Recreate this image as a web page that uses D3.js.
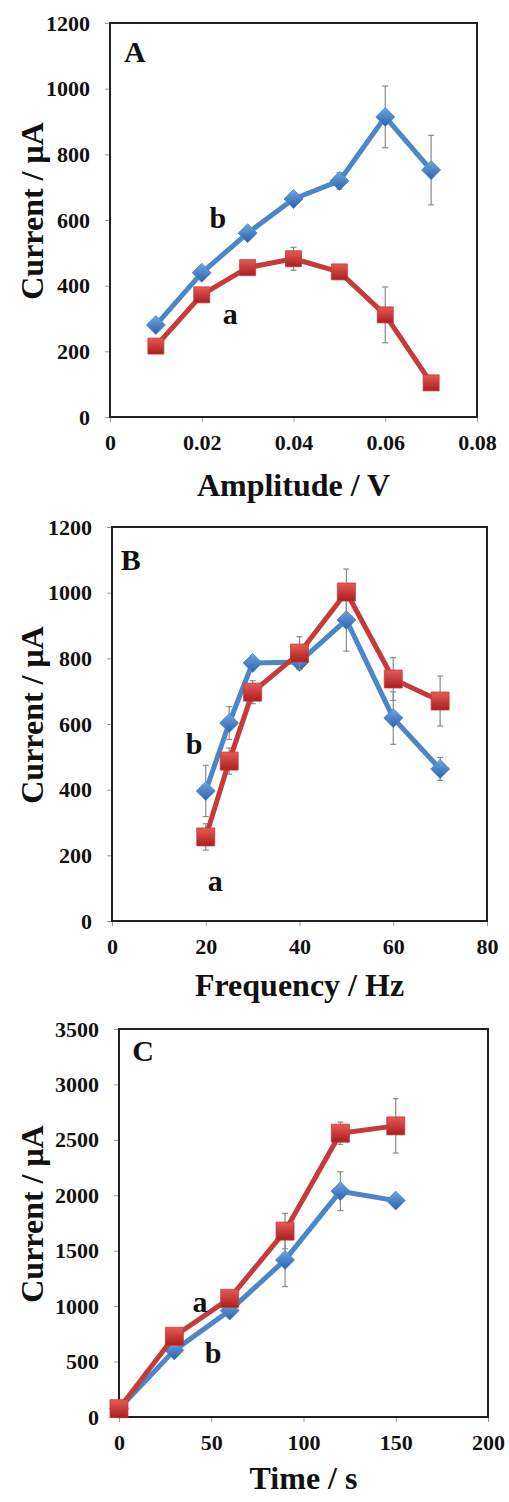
<!DOCTYPE html>
<html>
<head>
<meta charset="utf-8">
<script src="https://cdn.jsdelivr.net/npm/d3@7"></script>
<style>
  body { margin: 0; background: #fff; }
  svg text { font-family: "Liberation Serif", "Times New Roman", serif; font-weight: bold; fill: #111; }
</style>
</head>
<body>
<svg width="509" height="1502"></svg>
<script>
// Panel A - amplitude
const ampX = [0.01, 0.02, 0.03, 0.04, 0.05, 0.06, 0.07];
const ampA = [216, 372, 455, 482, 442, 311, 104];
const ampAErr = [10, 12, 12, 35, 12, 85, 8];
const ampB = [280, 439, 560, 664, 719, 914, 752];
const ampBErr = [10, 12, 12, 12, 25, 94, 106];
const ampXTicks = [0, 0.02, 0.04, 0.06, 0.08];
const ampYTicks = [0, 200, 400, 600, 800, 1000, 1200];

// Panel B - frequency
const freqX = [20, 25, 30, 40, 50, 60, 70];
const freqA = [256, 487, 697, 816, 1002, 737, 670];
const freqAErr = [40, 40, 35, 50, 70, 65, 76];
const freqB = [396, 603, 786, 789, 917, 618, 463];
const freqBErr = [78, 50, 10, 20, 95, 80, 35];
const freqXTicks = [0, 20, 40, 60, 80];
const freqYTicks = [0, 200, 400, 600, 800, 1000, 1200];

// Panel C - time
const timeX = [0, 30, 60, 90, 120, 150];
const timeA = [75, 728, 1070, 1677, 2560, 2626];
const timeAErr = [10, 40, 60, 160, 100, 245];
const timeB = [75, 601, 960, 1417, 2037, 1952];
const timeBErr = [10, 60, 40, 240, 175, 50];
const timeXTicks = [0, 50, 100, 150, 200];
const timeYTicks = [0, 500, 1000, 1500, 2000, 2500, 3000, 3500];

const svg = d3.select("svg");

// gradients for the markers
const defs = svg.append("defs");
function grad(id, c1, c2) {
  const g = defs.append("linearGradient").attr("id", id)
    .attr("x1", 0).attr("y1", 0).attr("x2", 0).attr("y2", 1);
  g.append("stop").attr("offset", "0%").attr("stop-color", c1);
  g.append("stop").attr("offset", "100%").attr("stop-color", c2);
}
grad("gBlue", "#6fa6e2", "#2a62ab");
grad("gRed", "#e65a55", "#a91f1f");

const blue = "#4a86c8", red = "#c63b3a";

const panels = [
  { box: [110, 477, 23, 417], xDom: [0, 0.08], yDom: [0, 1200], xTicks: ampXTicks, yTicks: ampYTicks,
    xFmt: d => d === 0 ? "0" : d3.format(".2f")(d), xTitle: "Amplitude / V", xTitleY: 485,
    x: ampX, a: ampA, aErr: ampAErr, b: ampB, bErr: ampBErr, mk: 16, dm: 9.5,
    letter: ["A", 0.0054, 1112], la: [0.0262, 311], lb: [0.0235, 609] },
  { box: [112, 487, 527, 921], xDom: [0, 80], yDom: [0, 1200], xTicks: freqXTicks, yTicks: freqYTicks,
    xFmt: d3.format("d"), xTitle: "Frequency / Hz", xTitleY: 985,
    x: freqX, a: freqA, aErr: freqAErr, b: freqB, bErr: freqBErr, mk: 18, dm: 9.5,
    letter: ["B", 4, 1100], la: [22, 119], lb: [17.5, 542] },
  { box: [119, 488, 1029, 1417], xDom: [0, 200], yDom: [0, 3500], xTicks: timeXTicks, yTicks: timeYTicks,
    xFmt: d3.format("d"), xTitle: "Time / s", xTitleY: 1478,
    x: timeX, a: timeA, aErr: timeAErr, b: timeB, bErr: timeBErr, mk: 18, dm: 9.5,
    letter: ["C", 13, 3310], la: [43.9, 1028], lb: [51, 586] }
];

panels.forEach(function(p) {
  const [l, r, t, b] = p.box;
  const x = d3.scaleLinear().domain(p.xDom).range([l, r]);
  const y = d3.scaleLinear().domain(p.yDom).range([b, t]);
  const g = svg.append("g");

  // axes
  const xAxis = g.append("g").attr("transform", "translate(0," + b + ")")
    .call(d3.axisBottom(x).tickValues(p.xTicks).tickFormat(p.xFmt).tickSizeInner(5).tickSizeOuter(0).tickPadding(12));
  const yAxis = g.append("g").attr("transform", "translate(" + l + ",0)")
    .call(d3.axisLeft(y).tickValues(p.yTicks).tickFormat(d3.format("d")).tickSizeInner(5).tickSizeOuter(0).tickPadding(15));
  [xAxis, yAxis].forEach(function(a) {
    a.attr("font-family", null).attr("font-size", null);
    a.select(".domain").remove();
    a.selectAll(".tick line").attr("stroke", "#999");
    a.selectAll(".tick text").style("font-size", "22px").attr("fill", "#111");
  });

  // frame
  g.append("rect").attr("x", l).attr("y", t).attr("width", r - l).attr("height", b - t)
    .attr("fill", "none").attr("stroke", "#222").attr("stroke-width", 2);

  // titles
  g.append("text").attr("x", (l + r) / 2).attr("y", p.xTitleY).attr("dy", "0.35em")
    .attr("text-anchor", "middle").style("font-size", "32px").text(p.xTitle);
  g.append("text").attr("transform", "translate(32," + ((t + b) / 2 - 9) + ") rotate(-90)")
    .attr("dy", "0.35em").attr("text-anchor", "middle").style("font-size", "32px").text("Current / μA");

  const series = [
    { v: p.b, e: p.bErr, color: blue, fill: "url(#gBlue)", shape: "diamond" },
    { v: p.a, e: p.aErr, color: red, fill: "url(#gRed)", shape: "square" }
  ];
  const line = d3.line().x(d => x(d[0])).y(d => y(d[1]));

  series.forEach(function(s) {
    const pts = p.x.map((xv, i) => [xv, s.v[i], s.e[i]]);
    // error bars
    const eb = g.append("g").attr("stroke", "#8a8a8a").attr("stroke-width", 1.2);
    pts.forEach(function(d) {
      eb.append("line").attr("x1", x(d[0])).attr("x2", x(d[0])).attr("y1", y(d[1] - d[2])).attr("y2", y(d[1] + d[2]));
      eb.append("line").attr("x1", x(d[0]) - 3).attr("x2", x(d[0]) + 3).attr("y1", y(d[1] - d[2])).attr("y2", y(d[1] - d[2]));
      eb.append("line").attr("x1", x(d[0]) - 3).attr("x2", x(d[0]) + 3).attr("y1", y(d[1] + d[2])).attr("y2", y(d[1] + d[2]));
    });
    g.append("path").datum(pts).attr("d", line).attr("fill", "none")
      .attr("stroke", s.color).attr("stroke-width", 5).attr("stroke-linejoin", "round");
    g.selectAll(null).data(pts).enter().append("path")
      .attr("transform", d => "translate(" + x(d[0]) + "," + y(d[1]) + ")")
      .attr("d", function() {
        if (s.shape === "square") { const h = p.mk / 2; return "M" + -h + "," + -h + "H" + h + "V" + h + "H" + -h + "Z"; }
        const h = p.dm; return "M0," + -h + "L" + h + ",0L0," + h + "L" + -h + ",0Z";
      })
      .attr("fill", s.fill).attr("stroke", s.color).attr("stroke-width", 0.8);
  });

  // labels
  g.append("text").attr("x", x(p.letter[1])).attr("y", y(p.letter[2])).attr("dy", "0.35em")
    .attr("text-anchor", "middle").style("font-size", "30px").text(p.letter[0]);
  g.append("text").attr("x", x(p.la[0])).attr("y", y(p.la[1])).attr("dy", "0.3em")
    .attr("text-anchor", "middle").style("font-size", "30px").text("a");
  g.append("text").attr("x", x(p.lb[0])).attr("y", y(p.lb[1])).attr("dy", "0.35em")
    .attr("text-anchor", "middle").style("font-size", "30px").text("b");
});
</script>
</body>
</html>
